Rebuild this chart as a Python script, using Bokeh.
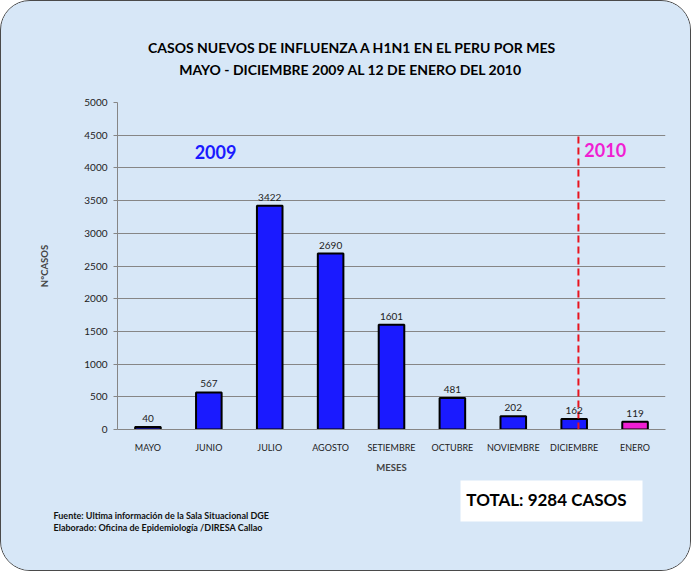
from bokeh.plotting import figure
from bokeh.layouts import column, row
from bokeh.models import (ColumnDataSource, Range1d, FactorRange, Label, BoxAnnotation,
                          Segment, SingleIntervalTicker, LabelSet)
from bokeh.core.properties import value
from bokeh.embed import file_html
from bokeh.resources import INLINE

months = ["MAYO", "JUNIO", "JULIO", "AGOSTO", "SETIEMBRE", "OCTUBRE",
          "NOVIEMBRE", "DICIEMBRE", "ENERO"]
cases = [40, 567, 3422, 2690, 1601, 481, 202, 162, 119]
year = ["2009"] * 8 + ["2010"]
title_lines = ["CASOS NUEVOS DE INFLUENZA A H1N1 EN EL PERU POR MES",
               "MAYO - DICIEMBRE  2009 AL 12 DE ENERO DEL 2010"]
total_text = "TOTAL: 9284 CASOS"
footer = ["Fuente: Ultima información de la Sala Situacional DGE",
          "Elaborado: Oficina de Epidemiología /DIRESA Callao"]

BG = "#d7e7f7"
FONT = "Lato"
year_color = {"2009": "#1a1aff", "2010": "#f01ed2"}
W = 689


def blank(height, x_left, x_right, y_top, y_bottom):
    """Axis-less strip whose data coordinates equal page pixel coordinates."""
    f = figure(width=W, height=height, x_range=Range1d(x_left, x_right),
               y_range=Range1d(y_bottom, y_top), output_backend="svg",
               toolbar_location=None, x_axis_location=None, y_axis_location=None,
               min_border=0)
    f.background_fill_color = BG
    f.border_fill_color = BG
    f.outline_line_color = None
    f.grid.grid_line_color = None
    return f


# ---- title strip (its frame lines up with the chart frame: x 117..665) ----
top = blank(88, 117, 665, 1, 89)
for yy, t in zip([47, 69], title_lines):
    top.add_layout(Label(x=352, y=yy, text=t, text_font=FONT, text_font_size="14px",
                         text_font_style="bold", text_color="black",
                         text_align="center", text_baseline="middle"))

# ---- main chart ----
src = ColumnDataSource(dict(
    month=months, cases=cases, label=[str(c) for c in cases],
    color=[year_color[y] for y in year],
))

p = figure(width=W, height=388, x_range=FactorRange(*months), y_range=Range1d(0, 5000),
           output_backend="svg", toolbar_location=None,
           min_border_left=116, min_border_right=25, min_border_top=13, min_border_bottom=48)
p.background_fill_color = BG
p.border_fill_color = BG
p.outline_line_color = None

p.vbar(x="month", top="cases", width=0.42, source=src, fill_color="color",
       line_color="black", line_width=2)
p.add_layout(LabelSet(x="month", y="cases", text="label", source=src, y_offset=5,
                      text_align="center", text_baseline="bottom", text_font=value(FONT),
                      text_font_size="10px", text_color="#222222"))

p.yaxis.ticker = SingleIntervalTicker(interval=500)
p.yaxis.minor_tick_line_color = None
p.yaxis.major_tick_in = 0
p.yaxis.major_tick_out = 4
p.yaxis.major_tick_line_color = "#868686"
p.yaxis.axis_line_color = "#868686"
p.yaxis.major_label_text_font = FONT
p.yaxis.major_label_text_font_size = "10px"
p.yaxis.major_label_text_color = "#222222"
p.yaxis.major_label_standoff = 6
p.yaxis.axis_label = "N°CASOS"
p.yaxis.axis_label_text_font = FONT
p.yaxis.axis_label_text_font_size = "9.5px"
p.yaxis.axis_label_text_font_style = "bold"
p.yaxis.axis_label_standoff = 31

p.xaxis.major_tick_line_color = None
p.xaxis.axis_line_color = "#868686"
p.xaxis.major_label_text_font = FONT
p.xaxis.major_label_text_font_size = "9px"
p.xaxis.major_label_text_color = "#222222"
p.xaxis.major_label_standoff = 6
p.xaxis.axis_label = "MESES"
p.xaxis.axis_label_text_font = FONT
p.xaxis.axis_label_text_font_size = "9.5px"
p.xaxis.axis_label_text_font_style = "bold"
p.xaxis.axis_label_standoff = 6

p.xgrid.grid_line_color = None
p.ygrid.grid_line_color = "#868686"
p.ygrid.grid_line_width = 1

p.add_glyph(ColumnDataSource(dict(x0=[7.57], y0=[0], x1=[7.57], y1=[4500])),
            Segment(x0="x0", y0="y0", x1="x1", y1="y1", line_color="#e8141e",
                    line_width=2, line_dash="7 4"))

p.add_layout(Label(x=1.61, y=4250, text="2009", text_font=FONT, text_font_size="18px",
                   text_font_style="bold", text_color=year_color["2009"],
                   text_align="center", text_baseline="middle"))
p.add_layout(Label(x=8.01, y=4280, text="2010", text_font=FONT, text_font_size="18px",
                   text_font_style="bold", text_color=year_color["2010"],
                   text_align="center", text_baseline="middle"))

# ---- footer strip (own row, so its frame spans the full width) ----
bottom = blank(93, 1, 1 + W, 477, 570)
bottom.add_layout(BoxAnnotation(left=460, right=642, top=480, bottom=521,
                                fill_color="white", fill_alpha=1, line_color=None))
bottom.add_layout(Label(x=546, y=499, text=total_text, text_font=FONT,
                        text_font_size="17px", text_font_style="bold", text_color="black",
                        text_align="center", text_baseline="middle"))
for yy, t in zip([515, 527], footer):
    bottom.add_layout(Label(x=53, y=yy, text=t, text_font=FONT, text_font_size="9px",
                            text_font_style="bold", text_color="#111111",
                            text_align="left", text_baseline="middle"))

page = column(top, p, row(bottom, spacing=0), spacing=0)
page.styles = {"border": "1px solid #4a4a4a", "border-radius": "30px",
               "overflow": "hidden", "background-color": BG}

open("out.html", "w").write(file_html(page, INLINE))
